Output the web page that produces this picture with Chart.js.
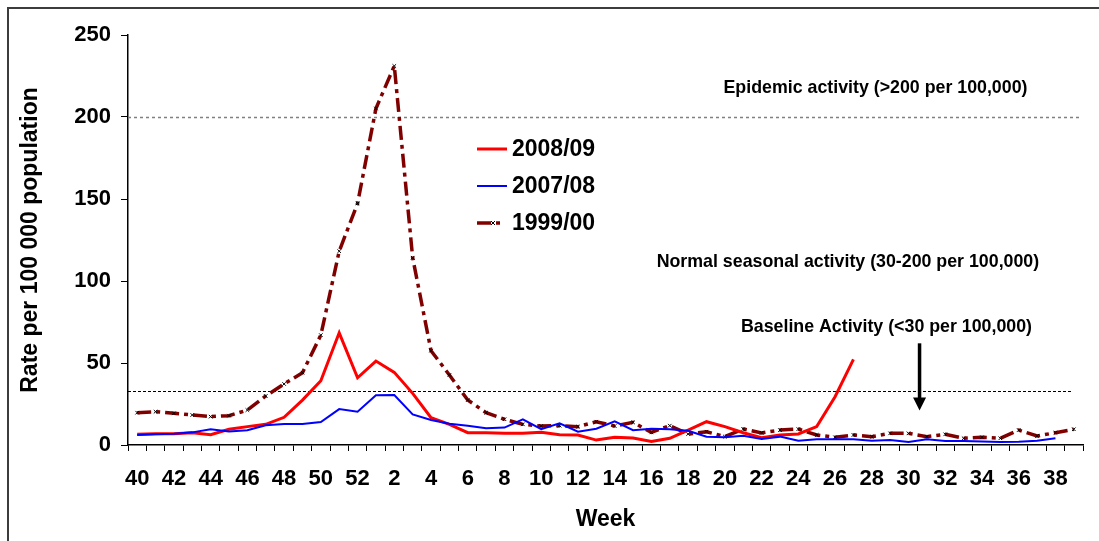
<!DOCTYPE html>
<html>
<head>
<meta charset="utf-8">
<script src="https://cdn.jsdelivr.net/npm/chart.js@4.4.1/dist/chart.umd.min.js"></script>
<style>
  html, body { margin: 0; padding: 0; background: #fff; }
  #wrap { position: relative; width: 1099px; height: 541px; overflow: hidden; }
  #frame { position: absolute; left: 7px; top: 7px; right: -4px; bottom: -4px;
           border-left: 2px solid #3c3c3c; border-top: 2px solid #3c3c3c; }
  canvas { position: absolute; left: 0; top: 0; }
</style>
</head>
<body>
<div id="wrap">
  <div id="frame"></div>
  <canvas id="fluChart" width="1099" height="541"></canvas>
</div>
<script>
const weeks = ['40','41','42','43','44','45','46','47','48','49','50','51','52',
  '1','2','3','4','5','6','7','8','9','10','11','12','13','14','15','16','17','18','19','20',
  '21','22','23','24','25','26','27','28','29','30','31','32','33','34','35','36','37','38','39'];

// 2008/09 season (reported up to week 27)
const rate0809 = [6.5, 6.9, 6.9, 7.5, 6.3, 9.6, 11.2, 12.6, 16.9, 27.4, 39.2, 68.4, 41.0,
  51.2, 44.3, 31.5, 16.6, 12.6, 7.5, 7.5, 7.1, 7.1, 7.7, 6.3, 6.1, 3.0, 4.7, 4.3, 2.2, 4.1, 9.1, 14.2, 11.2,
  7.5, 4.5, 6.1, 6.7, 11.2, 29.4, 52.2, null, null, null, null, null, null, null, null, null, null, null, null];

const rate0708 = [6.1, 6.5, 6.9, 7.7, 9.6, 8.3, 9.0, 12.0, 12.8, 12.8, 14.0, 21.9, 20.3,
  30.3, 30.5, 18.7, 15.2, 13.0, 11.8, 10.2, 10.6, 15.7, 9.7, 13.2, 8.1, 9.9, 14.4, 9.0, 9.9, 9.6, 8.7, 5.1, 4.7,
  5.7, 3.6, 5.1, 2.6, 3.5, 3.5, 3.5, 2.6, 3.0, 1.8, 3.5, 2.4, 2.4, 2.2, 1.8, 2.0, 2.6, 4.1, null];

const rate9900 = [19.7, 20.3, 19.3, 18.3, 17.3, 17.9, 21.3, 29.9, 37.2, 44.1, 67.0, 118.2, 147.3,
  205.2, 231.1, 114.2, 57.5, 42.7, 27.4, 19.7, 15.7, 12.6, 11.6, 11.8, 11.2, 14.2, 11.6, 13.8, 7.7, 11.8, 6.7, 8.1, 5.1,
  9.7, 7.4, 9.1, 9.7, 6.1, 4.7, 6.1, 5.1, 7.1, 7.1, 5.1, 6.5, 4.1, 4.7, 4.1, 9.1, 5.5, 7.5, 9.6];

const epidemicLevel = 200;
const baselineLevel = 33;

const notes = [
  { text: 'Epidemic activity (>200 per 100,000)', x: 40.2, y: 217.5 },
  { text: 'Normal seasonal activity (30-200 per 100,000)', x: 38.7, y: 111.5 },
  { text: 'Baseline Activity (<30 per 100,000)', x: 40.8, y: 72 }
];
const arrowNote = { x: 42.6, from: 62, to: 21 };

const FONT = '"Liberation Sans", Arial, sans-serif';

const overlay = {
  id: 'overlay',
  beforeDatasetsDraw(chart) {
    const { ctx, chartArea: a, scales: { y } } = chart;
    ctx.save();
    ctx.lineWidth = 1.5;
    ctx.strokeStyle = '#808080';
    ctx.setLineDash([3, 3]);
    let py = Math.round(y.getPixelForValue(epidemicLevel)) + 0.5;
    ctx.beginPath(); ctx.moveTo(a.left, py); ctx.lineTo(a.right - 2, py); ctx.stroke();
    ctx.lineWidth = 1;
    ctx.strokeStyle = '#000';
    ctx.setLineDash([3, 2]);
    py = Math.round(y.getPixelForValue(baselineLevel)) + 0.5;
    ctx.beginPath(); ctx.moveTo(a.left, py); ctx.lineTo(a.right - 11, py); ctx.stroke();
    ctx.restore();
  },
  afterDraw(chart) {
    const { ctx, chartArea: a, scales: { x, y } } = chart;
    ctx.save();
    ctx.fillStyle = '#000';
    ctx.font = 'bold 17.8px ' + FONT;
    ctx.textAlign = 'center';
    ctx.textBaseline = 'middle';
    notes.forEach(n => ctx.fillText(n.text, x.getPixelForValue(n.x), y.getPixelForValue(n.y)));

    // arrow pointing down to the baseline
    const ax = x.getPixelForValue(arrowNote.x);
    const y0 = y.getPixelForValue(arrowNote.from);
    const y1 = y.getPixelForValue(arrowNote.to);
    ctx.lineWidth = 3.5;
    ctx.strokeStyle = '#000';
    ctx.beginPath(); ctx.moveTo(ax, y0); ctx.lineTo(ax, y1 - 10); ctx.stroke();
    ctx.beginPath();
    ctx.moveTo(ax - 6.5, y1 - 13); ctx.lineTo(ax + 6.5, y1 - 13); ctx.lineTo(ax, y1); ctx.closePath();
    ctx.fill();

    // legend inside the plot
    const lx = a.left + 349;
    const rows = [0, 1, 2];
    ctx.font = 'bold 23px ' + FONT;
    ctx.textAlign = 'left';
    rows.forEach(i => {
      const ds = chart.data.datasets[i];
      const ly = a.top + 114 + i * 37;
      ctx.save();
      ctx.strokeStyle = ds.borderColor;
      ctx.lineWidth = ds.borderWidth;
      ctx.setLineDash(ds.borderDash || []);
      ctx.beginPath(); ctx.moveTo(lx, ly); ctx.lineTo(lx + (ds.borderDash ? 24 : 30), ly); ctx.stroke();
      if (ds.pointStyle === 'crossRot') {
        ctx.setLineDash([]);
        ctx.strokeStyle = '#000';
        ctx.lineWidth = 1;
        const cx = lx + 16, r = 2;
        ctx.beginPath();
        ctx.moveTo(cx - r, ly - r); ctx.lineTo(cx + r, ly + r);
        ctx.moveTo(cx + r, ly - r); ctx.lineTo(cx - r, ly + r);
        ctx.stroke();
      }
      ctx.restore();
      ctx.fillText(ds.label, lx + 35, ly + 1);
    });
    ctx.restore();
  }
};

new Chart(document.getElementById('fluChart'), {
  type: 'line',
  data: {
    labels: weeks,
    datasets: [
      { label: '2008/09', data: rate0809, borderColor: '#ff0000', borderWidth: 3,
        pointRadius: 0, tension: 0, order: 1 },
      { label: '2007/08', data: rate0708, borderColor: '#0000ff', borderWidth: 2,
        pointRadius: 0, tension: 0, order: 0 },
      { label: '1999/00', data: rate9900, borderColor: '#800000', borderWidth: 3.5,
        borderDash: [14, 5, 4, 5], pointStyle: 'crossRot', pointRadius: 2.5,
        pointBorderColor: '#000', pointBorderWidth: 1, pointBackgroundColor: '#000',
        tension: 0, order: 2 }
    ]
  },
  options: {
    responsive: false,
    animation: false,
    devicePixelRatio: 1,
    layout: { padding: { top: 35, right: 16, left: 0, bottom: 0 } },
    plugins: { legend: { display: false }, tooltip: { enabled: false } },
    scales: {
      x: {
        offset: true,
        grid: { offset: true, drawOnChartArea: false, tickLength: 6, color: '#000', lineWidth: 1 },
        border: { color: '#000', width: 1.5 },
        ticks: {
          autoSkip: false, maxRotation: 0, color: '#000', padding: 15,
          font: { family: FONT, size: 22, weight: 'bold' },
          callback(v, i) { return i % 2 === 0 ? this.getLabelForValue(v) : ''; }
        },
        title: { display: true, text: 'Week', color: '#000',
          font: { family: FONT, size: 23, weight: 'bold' }, padding: { top: 0, bottom: 8 } },
        afterFit(s) { s.height = 96; }
      },
      y: {
        min: 0, max: 250,
        grid: { drawOnChartArea: false, tickLength: 7, color: '#000', lineWidth: 1 },
        border: { color: '#000', width: 1.5 },
        ticks: { stepSize: 50, color: '#000', padding: 10,
          font: { family: FONT, size: 22, weight: 'bold' } },
        title: { display: true, text: 'Rate per 100 000 population', color: '#000',
          font: { family: FONT, size: 23, weight: 'bold' }, padding: { top: 17, bottom: 0 } },
        afterFit(s) { s.width = 128; }
      }
    }
  },
  plugins: [overlay]
});
</script>
</body>
</html>
